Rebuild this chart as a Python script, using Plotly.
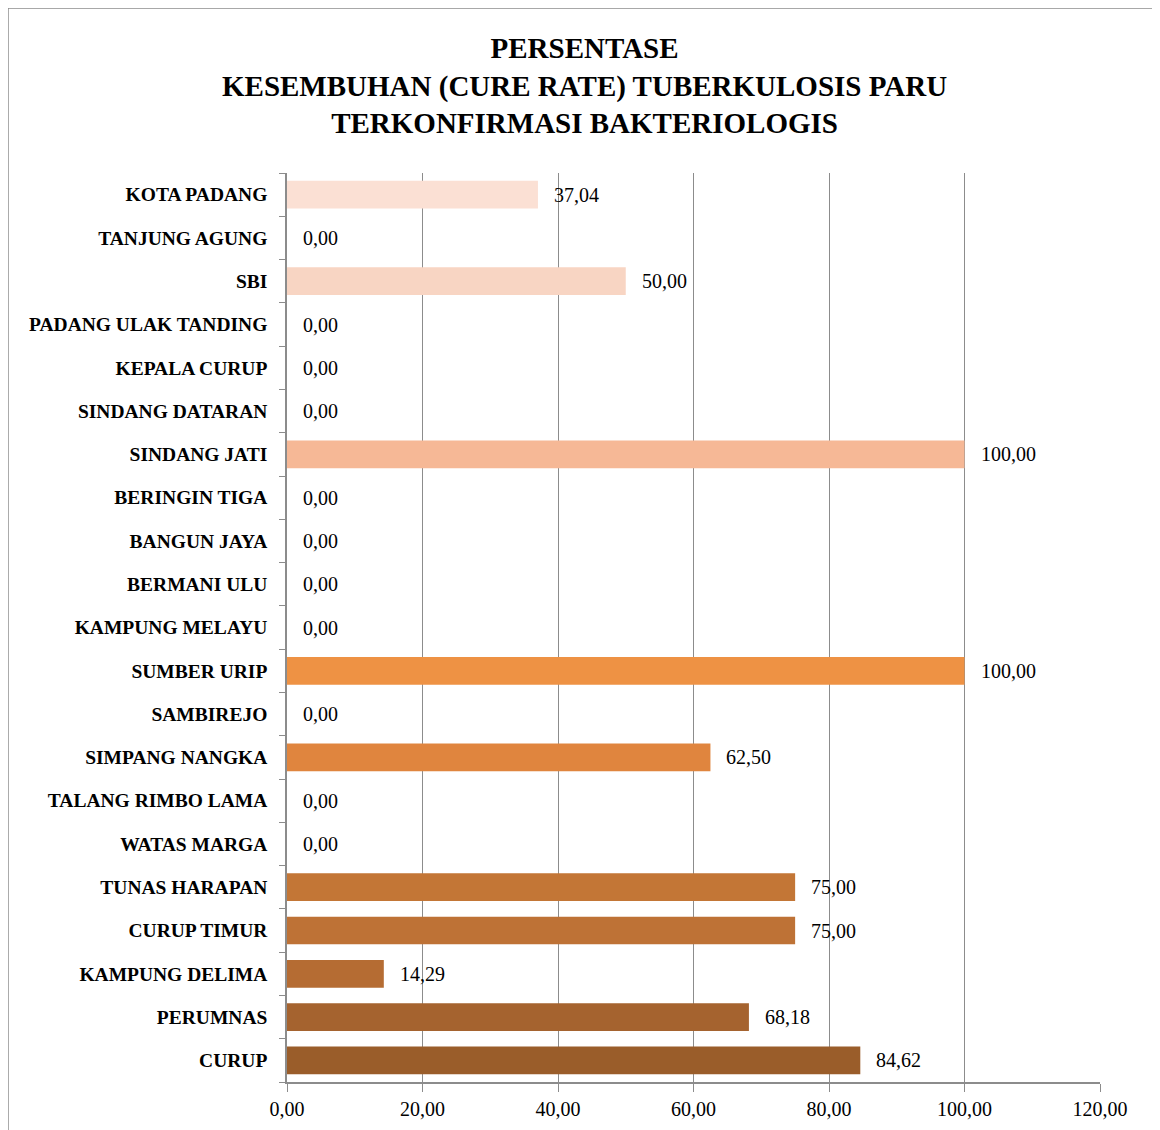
import plotly.graph_objects as go

categories = ["KOTA PADANG", "TANJUNG AGUNG", "SBI", "PADANG ULAK TANDING", "KEPALA CURUP",
              "SINDANG DATARAN", "SINDANG JATI", "BERINGIN TIGA", "BANGUN JAYA", "BERMANI ULU",
              "KAMPUNG MELAYU", "SUMBER URIP", "SAMBIREJO", "SIMPANG NANGKA", "TALANG RIMBO LAMA",
              "WATAS MARGA", "TUNAS HARAPAN", "CURUP TIMUR", "KAMPUNG DELIMA", "PERUMNAS", "CURUP"]
values = [37.04, 0.00, 50.00, 0.00, 0.00, 0.00, 100.00, 0.00, 0.00, 0.00, 0.00, 100.00, 0.00,
          62.50, 0.00, 0.00, 75.00, 75.00, 14.29, 68.18, 84.62]
x_ticks = [0, 20, 40, 60, 80, 100, 120]
title_lines = ["PERSENTASE", "KESEMBUHAN (CURE RATE) TUBERKULOSIS PARU", "TERKONFIRMASI BAKTERIOLOGIS"]

colors = ["#FBE0D4", "#FADBCB", "#F8D5C3", "#F8CDB6", "#F7C6AA", "#F6BF9F", "#F6B896",
          "#F4AC80", "#F3A36E", "#F19A5C", "#EF964F", "#EE9244", "#E78B41", "#E0853E",
          "#D47F3B", "#CA7A38", "#C37636", "#BE7236", "#B56C33", "#A5632F", "#9A5D2A"]

FONT = "Liberation Serif"

fig = go.Figure()
fig.add_trace(go.Bar(
    y=categories, x=values, orientation="h",
    marker=dict(color=colors, line=dict(width=0)),
    hoverinfo="skip",
))

for c, v in zip(categories, values):
    fig.add_annotation(x=v, y=c, xref="x", yref="y", text=f"{v:.2f}".replace(".", ","),
                       showarrow=False, xanchor="left", xshift=14,
                       font=dict(family=FONT, size=20, color="#000000"))

fig.add_annotation(x=0.3665, y=1.0, xref="paper", yref="paper", yanchor="bottom", yshift=32,
                   text="<b>" + "<br>".join(title_lines) + "</b>", showarrow=False,
                   font=dict(family=FONT, size=29, color="#000000"), align="center")

# outer frame
fig.add_shape(type="rect", xref="paper", yref="paper", x0=-0.3432, x1=1.2, y0=-0.2, y1=1.1815,
              line=dict(color="#8c8c8c", width=1.5), fillcolor="rgba(0,0,0,0)", layer="below")

fig.update_layout(
    width=1160, height=1130,
    margin=dict(l=279, r=68, t=165, b=56),
    paper_bgcolor="white", plot_bgcolor="white",
    separators=",.",
    showlegend=False,
    bargap=0.36,
    font=dict(family=FONT, color="#000000"),
)
fig.update_xaxes(range=[0, 120], tickvals=x_ticks, tickformat=".2f",
                 showgrid=True, gridcolor="#8c8c8c", gridwidth=1,
                 showline=True, linecolor="#8c8c8c", linewidth=2,
                 ticks="outside", ticklen=8, tickcolor="#8c8c8c",
                 tickfont=dict(family=FONT, size=20, color="#000000"),
                 ticklabelstandoff=0, zeroline=False, fixedrange=True)
fig.update_yaxes(autorange="reversed", showgrid=False,
                 showline=True, linecolor="#8c8c8c", linewidth=1.5,
                 ticks="outside", tickson="boundaries", ticklen=6, tickcolor="#8c8c8c",
                 tickfont=dict(family=FONT, size=19.5, color="#000000"),
                 ticklabelstandoff=14, fixedrange=True)
fig.update_yaxes(tickvals=categories, ticktext=["<b>" + c + "</b>" for c in categories])

fig.write_html("out.html")
